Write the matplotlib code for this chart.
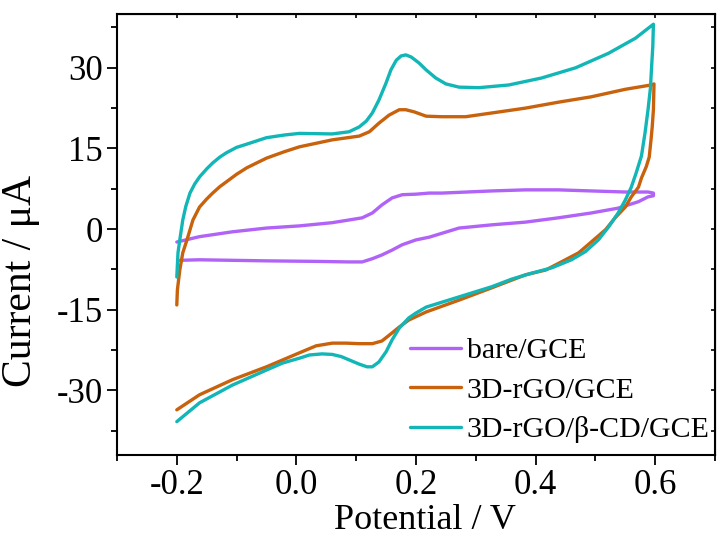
import matplotlib
matplotlib.use("Agg")
import matplotlib.pyplot as plt
from matplotlib.ticker import MultipleLocator

plt.rcParams['font.family'] = ['Liberation Serif', 'DejaVu Serif']
plt.rcParams['axes.unicode_minus'] = False

# potential (V) and current (uA), forward scan then reverse scan
bare_E = [-0.200, -0.162, -0.107, -0.050, 0.005, 0.060, 0.088, 0.110, 0.127, 0.143,
          0.160, 0.177, 0.200, 0.222, 0.243, 0.327, 0.383, 0.438, 0.493, 0.550,
          0.588, 0.597, 0.597, 0.588, 0.572, 0.555, 0.538, 0.493, 0.438, 0.383,
          0.327, 0.272, 0.222, 0.200, 0.177, 0.160, 0.143, 0.127, 0.110, 0.088,
          0.033, -0.050, -0.107, -0.162, -0.195]
bare_I = [-2.4, -1.4, -0.5, 0.2, 0.6, 1.2, 1.7, 2.1, 3.0, 4.5,
          5.8, 6.4, 6.5, 6.7, 6.7, 7.1, 7.3, 7.3, 7.1, 6.9,
          6.9, 6.7, 6.2, 6.0, 5.1, 4.5, 3.9, 3.0, 2.1, 1.3,
          0.8, 0.2, -1.5, -2.0, -2.9, -3.9, -4.8, -5.5, -6.1, -6.1,
          -6.0, -5.9, -5.8, -5.7, -5.8]

rgo_E = [-0.200, -0.199, -0.195, -0.190, -0.183, -0.173, -0.162, -0.150, -0.140, -0.128,
         -0.117, -0.100, -0.083, -0.050, -0.020, 0.005, 0.060, 0.105, 0.122, 0.138,
         0.155, 0.172, 0.183, 0.197, 0.217, 0.243, 0.283, 0.327, 0.383, 0.438,
         0.493, 0.550, 0.593, 0.598, 0.597, 0.595, 0.593, 0.590, 0.585, 0.577,
         0.572, 0.560, 0.550, 0.533, 0.517, 0.493, 0.472, 0.443, 0.417, 0.383,
         0.327, 0.272, 0.217, 0.188, 0.172, 0.160, 0.143, 0.127, 0.105, 0.083,
         0.060, 0.033, 0.005, -0.050, -0.107, -0.162, -0.200]
rgo_I = [-14.1, -11.3, -7.6, -4.4, -2.0, 1.7, 4.1, 5.6, 6.7, 7.9,
         8.8, 10.2, 11.4, 13.2, 14.4, 15.3, 16.6, 17.3, 18.1, 19.7,
         21.2, 22.2, 22.2, 21.8, 21.0, 20.9, 20.9, 21.6, 22.5, 23.6,
         24.6, 26.0, 26.8, 27.0, 22.2, 19.0, 16.6, 13.4, 11.6, 9.5,
         7.8, 6.0, 4.1, 2.1, -0.1, -2.4, -4.4, -6.1, -7.6, -8.5,
         -10.9, -13.2, -15.4, -16.9, -18.2, -19.3, -20.8, -21.3, -21.3, -21.2,
         -21.2, -21.7, -23.0, -25.6, -28.0, -30.8, -33.6]

cd_E = [-0.200, -0.198, -0.195, -0.190, -0.185, -0.178, -0.170, -0.162, -0.150, -0.140,
        -0.128, -0.117, -0.100, -0.083, -0.050, -0.020, 0.005, 0.060, 0.088, 0.105,
        0.117, 0.127, 0.138, 0.150, 0.158, 0.167, 0.175, 0.183, 0.192, 0.205,
        0.217, 0.233, 0.250, 0.272, 0.305, 0.355, 0.410, 0.467, 0.522, 0.567,
        0.597, 0.596, 0.594, 0.592, 0.588, 0.583, 0.577, 0.568, 0.560, 0.550,
        0.538, 0.522, 0.505, 0.483, 0.460, 0.427, 0.393, 0.360, 0.327, 0.272,
        0.217, 0.200, 0.188, 0.172, 0.160, 0.150, 0.138, 0.127, 0.118, 0.105,
        0.090, 0.075, 0.060, 0.043, 0.022, 0.005, -0.023, -0.050, -0.107, -0.162,
        -0.200]
cd_I = [-8.9, -4.4, -2.0, 1.7, 4.2, 6.7, 8.4, 9.7, 11.2, 12.3,
        13.4, 14.2, 15.2, 15.8, 17.0, 17.5, 17.8, 17.7, 18.1, 19.0,
        20.1, 21.6, 24.0, 27.2, 29.6, 31.4, 32.2, 32.4, 32.0, 30.9,
        29.6, 28.1, 27.0, 26.4, 26.3, 26.8, 28.1, 30.0, 32.7, 35.5,
        38.1, 34.0, 30.2, 26.2, 22.2, 17.9, 13.6, 10.4, 7.8, 5.4,
        3.0, 0.4, -2.0, -4.2, -5.7, -7.2, -8.2, -9.3, -10.7, -12.6,
        -14.5, -15.6, -16.5, -18.4, -20.6, -22.8, -24.7, -25.6, -25.6, -25.1,
        -24.4, -23.7, -23.3, -23.2, -23.4, -24.0, -24.9, -26.2, -29.0, -32.3,
        -35.8]

labels = ['bare/GCE', '3D-rGO/GCE', '3D-rGO/β-CD/GCE']
colors = ['#B163F7', '#C8620C', '#12B6B6']

fig = plt.figure(figsize=(7.18, 5.36), dpi=100)
ax = fig.add_axes([117/718, 1 - 455/536, 598/718, 441/536])

for E, I, lab, c in zip([bare_E, rgo_E, cd_E], [bare_I, rgo_I, cd_I], labels, colors):
    ax.plot(E, I, color=c, lw=2.4, label=lab, solid_capstyle='round', solid_joinstyle='round')

ax.set_xlim(-0.3, 0.7)
ax.set_ylim(-42, 40)
ax.xaxis.set_major_locator(MultipleLocator(0.2))
ax.xaxis.set_minor_locator(MultipleLocator(0.1))
ax.yaxis.set_major_locator(MultipleLocator(15))
ax.yaxis.set_minor_locator(MultipleLocator(7.5))
ax.xaxis.set_major_formatter(matplotlib.ticker.FuncFormatter(lambda v, p: f'{v:.1f}'.replace('-0.0', '0.0')))

for s in ax.spines.values():
    s.set_linewidth(1.5)
ax.tick_params(which='major', direction='out', length=7, width=1.3, labelsize=25, pad=3)
ax.tick_params(which='minor', direction='out', length=4, width=1.3)

top = ax.secondary_xaxis('top')
top.xaxis.set_major_locator(MultipleLocator(0.2))
top.xaxis.set_minor_locator(MultipleLocator(0.1))
top.tick_params(which='both', direction='in', length=3, width=1.2, labeltop=False)
right = ax.secondary_yaxis('right')
right.yaxis.set_major_locator(MultipleLocator(15))
right.yaxis.set_minor_locator(MultipleLocator(7.5))
right.tick_params(which='both', direction='in', length=3, width=1.2, labelright=False)

ax.set_xlabel('Potential / V', fontsize=26)
ax.set_ylabel('Current / μA', fontsize=30)
ax.xaxis.set_label_coords(0.515, -0.112)
ax.yaxis.set_label_coords(-0.128, 0.395)

ax.legend(loc='upper left', bbox_to_anchor=(0.49, 0.267), frameon=False, fontsize=21.5,
          handlelength=1.7, handletextpad=0.2, labelspacing=0.42, borderpad=0, borderaxespad=0)

fig.savefig('out.png', dpi=100)
